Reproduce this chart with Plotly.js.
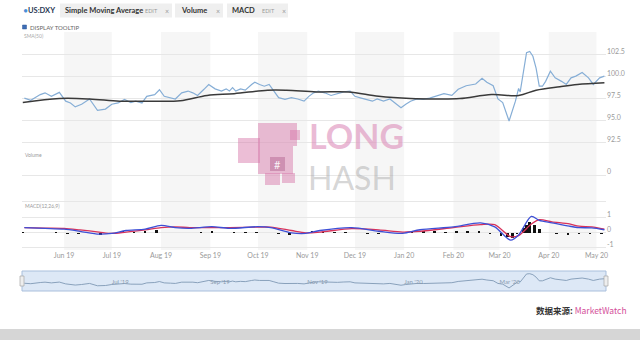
<!DOCTYPE html>
<html><head><meta charset="utf-8">
<script src="https://cdn.plot.ly/plotly-3.0.1.min.js"></script>
<style>html,body{margin:0;padding:0;background:#fff}#chart{width:640px;height:340px}</style>
</head><body><div id="chart"></div>
<script>
// ---- data ----
const priceDates = ['2019-05-07','2019-05-11','2019-05-17','2019-05-20','2019-05-24','2019-05-29','2019-06-02','2019-06-05','2019-06-08','2019-06-12','2019-06-17','2019-06-22','2019-06-27','2019-07-01','2019-07-05','2019-07-09','2019-07-13','2019-07-16','2019-07-20','2019-07-23','2019-07-28','2019-07-31','2019-08-03','2019-08-07','2019-08-10','2019-08-14','2019-08-18','2019-08-21','2019-08-24','2019-08-28','2019-08-31','2019-09-04','2019-09-08','2019-09-11','2019-09-13','2019-09-15','2019-09-17','2019-09-20','2019-09-23','2019-09-27','2019-09-29','2019-10-02','2019-10-05','2019-10-08','2019-10-11','2019-10-14','2019-10-18','2019-10-22','2019-10-26','2019-10-30','2019-11-02','2019-11-05','2019-11-08','2019-11-12','2019-11-16','2019-11-20','2019-11-24','2019-11-28','2019-12-01','2019-12-05','2019-12-09','2019-12-12','2019-12-15','2019-12-19','2019-12-23','2019-12-26','2019-12-30','2020-01-02','2020-01-05','2020-01-09','2020-01-13','2020-01-17','2020-01-21','2020-01-26','2020-01-31','2020-02-04','2020-02-09','2020-02-13','2020-02-15','2020-02-19','2020-02-22','2020-02-26','2020-02-29','2020-03-03','2020-03-07','2020-03-11','2020-03-13','2020-03-14','2020-03-18','2020-03-20','2020-03-22','2020-03-24','2020-03-26','2020-03-28','2020-03-30','2020-04-02','2020-04-05','2020-04-09','2020-04-12','2020-04-15','2020-04-18','2020-04-22','2020-04-26','2020-04-29','2020-05-03','2020-05-06'];
const priceVals = [97.6,97.35,98.0,98.2,97.8,98.25,97.25,97.05,96.6,96.9,97.5,96.2,96.35,96.9,97.05,97.45,97.1,97.25,97.05,97.8,98.0,98.55,97.8,97.64,97.5,98.2,98.4,98.2,97.9,98.6,99.15,98.65,98.4,98.65,98.4,98.8,98.4,98.65,98.5,99.15,99.4,99.15,98.95,99.15,98.4,97.65,97.45,97.65,97.5,97.25,97.8,98.2,98.4,98.2,97.9,98.1,98.3,98.4,97.8,97.6,97.4,97.25,97.5,97.25,97.5,97.1,96.5,96.9,97.25,97.5,97.45,97.6,97.8,98.1,97.9,98.6,99.0,99.15,99.2,99.85,99.4,99.0,97.5,97.1,95.0,97.25,98.7,98.3,102.75,102.9,102.35,101.0,98.95,98.95,99.5,100.65,99.9,99.5,99.15,99.9,100.1,100.5,99.9,99.15,99.9,100.1];

const smaDates = ['2019-05-06','2019-05-29','2019-06-17','2019-07-06','2019-07-25','2019-08-13','2019-08-30','2019-09-16','2019-10-07','2019-10-19','2019-11-07','2019-11-27','2019-12-16','2020-01-05','2020-01-22','2020-02-05','2020-02-25','2020-03-13','2020-03-24','2020-04-08','2020-04-19','2020-05-06'];
const smaVals = [97.1,97.55,97.5,97.25,97.25,97.3,97.9,98.1,98.5,98.5,98.3,98.3,97.8,97.55,97.5,97.55,98.0,97.9,98.5,98.9,99.15,99.35];

const volumeDates = [];   // the Volume panel is empty in the reference
const volumeVals = [];

const macdDates = ['2019-05-07','2019-05-20','2019-06-01','2019-06-11','2019-06-23','2019-07-01','2019-07-10','2019-07-22','2019-08-01','2019-08-10','2019-08-19','2019-09-02','2019-09-13','2019-10-01','2019-10-09','2019-10-22','2019-10-31','2019-11-09','2019-11-29','2019-12-16','2019-12-31','2020-01-11','2020-02-01','2020-02-18','2020-02-27','2020-03-08','2020-03-13','2020-03-21','2020-03-26','2020-04-03','2020-04-14','2020-04-20','2020-04-28','2020-05-06'];
const macdVals = [0.32,0.27,0.22,0.08,-0.11,-0.06,0.13,0.22,0.46,0.32,0.27,0.38,0.27,0.38,0.32,-0.02,-0.06,0.13,0.32,0.08,-0.06,0.18,0.37,0.63,0.37,-0.5,-0.16,1.05,0.79,0.63,0.41,0.32,0.3,0.18];
const signalVals = [0.32,0.29,0.27,0.17,0.03,-0.06,0.03,0.17,0.32,0.37,0.32,0.32,0.32,0.35,0.35,0.13,-0.02,0.03,0.25,0.17,0.03,0.08,0.32,0.51,0.51,-0.27,-0.2,0.55,0.84,0.7,0.56,0.41,0.37,0.22];

const histDates = ['2019-05-06','2019-05-13','2019-05-20','2019-05-27','2019-06-03','2019-06-10','2019-06-17','2019-06-24','2019-07-01','2019-07-08','2019-07-15','2019-07-22','2019-07-29','2019-08-05','2019-08-12','2019-08-19','2019-08-26','2019-09-02','2019-09-09','2019-09-16','2019-09-23','2019-09-30','2019-10-07','2019-10-14','2019-10-21','2019-10-28','2019-11-04','2019-11-11','2019-11-18','2019-11-25','2019-12-02','2019-12-09','2019-12-16','2019-12-23','2019-12-30','2020-01-06','2020-01-13','2020-01-20','2020-01-27','2020-02-03','2020-02-10','2020-02-17','2020-02-24','2020-03-02','2020-03-06','2020-03-09','2020-03-12','2020-03-16','2020-03-18','2020-03-20','2020-03-23','2020-03-26','2020-03-30','2020-04-06','2020-04-13','2020-04-20','2020-04-27','2020-05-04'];
const histVals = [0.05,-0.05,-0.03,0.04,-0.08,-0.1,-0.05,-0.15,0.0,0.1,0.06,0.08,0.15,0.0,-0.06,-0.04,0.05,0.07,-0.04,0.02,0.03,0.06,-0.04,-0.12,-0.15,-0.08,0.08,0.06,0.03,0.06,-0.05,-0.1,-0.08,-0.06,-0.12,0.05,0.08,0.1,0.06,0.1,0.08,0.12,-0.12,-0.2,-0.3,-0.35,-0.1,0.3,0.5,0.7,0.5,0.25,-0.05,-0.1,-0.15,-0.1,-0.12,-0.1];

const priceTicks = [92.5,95,97.5,100,102.5];
const volumeTicks = [0];
const volumeTickText = ['0'];
const macdTicks = [-1,0,1,2];
const macdTickText = ['-1','0','1',''];
const sliderTickDates = ['2019-07-01','2019-09-01','2019-11-01','2020-01-01','2020-03-01','2020-05-01'];
const sliderTickText = ["Jul '19","Sep '19","Nov '19","Jan '20","Mar '20","May '20"];
const bandStarts = ['2019-06-01','2019-08-01','2019-10-01','2019-12-01','2020-02-01','2020-04-01'];
const bandEnds   = ['2019-07-01','2019-09-01','2019-11-01','2020-01-01','2020-03-01','2020-05-01'];

// ---- geometry helpers (pixel -> paper) ----
const L=22, R=34, T=32, B=49, W=640, H=340;
const PW=W-L-R, PH=H-T-B;
const px=x=>(x-L)/PW, py=y=>(H-B-y)/PH;
const xRange=['2019-05-05 12:00','2020-05-07 00:00'];
const FONT='Lato, "Open Sans", sans-serif';
const tickF={family:FONT,size:7,color:'#9a9a9a'};

const traces=[
 {type:'bar',x:volumeDates,y:volumeVals,xaxis:'x',yaxis:'y2',marker:{color:'#9ab'},hoverinfo:'skip'},
 {type:'bar',x:histDates,y:histVals,xaxis:'x',yaxis:'y3',marker:{color:'#111'},width:1.6*86400000,hoverinfo:'skip'},
 {type:'scatter',mode:'lines',x:macdDates,y:signalVals,xaxis:'x',yaxis:'y3',line:{color:'#d8325a',width:1.3,shape:'spline',smoothing:0.8},hoverinfo:'skip'},
 {type:'scatter',mode:'lines',x:macdDates,y:macdVals,xaxis:'x',yaxis:'y3',line:{color:'#3d4fd6',width:1.3,shape:'spline',smoothing:0.8},hoverinfo:'skip'},
 {type:'scatter',mode:'lines',x:priceDates,y:priceVals,xaxis:'x',yaxis:'y',line:{color:'#86aed6',width:1.2},hoverinfo:'skip'},
 {type:'scatter',mode:'lines',x:smaDates,y:smaVals,xaxis:'x',yaxis:'y',line:{color:'#3a3a3a',width:1.5,shape:'spline',smoothing:1},hoverinfo:'skip'},
 {type:'scatter',mode:'lines',x:priceDates,y:priceVals,xaxis:'x2',yaxis:'y4',line:{color:'#7f98b4',width:0.9},hoverinfo:'skip'}
];

const shapes=[];
bandStarts.forEach((s,i)=>shapes.push({type:'rect',xref:'x',yref:'paper',x0:s,x1:bandEnds[i],y0:py(250),y1:py(32),fillcolor:'#f6f6f6',line:{width:0},layer:'below'}));
// range-slider box
shapes.push({type:'rect',xref:'paper',yref:'paper',x0:0,x1:1,y0:py(291),y1:py(271),fillcolor:'#dde8f6',line:{color:'#a9bfdc',width:1},layer:'below'});
[0,1].forEach(e=>shapes.push({type:'rect',xref:'paper',yref:'paper',x0:e-px(24)+px(22),x1:e+px(24)-px(22),y0:py(286),y1:py(276),fillcolor:'#eeeeee',line:{color:'#a8a8a8',width:0.7}}));
// toolbar pills
[[60,172],[175,223],[227,288]].forEach(p=>shapes.push({type:'rect',xref:'paper',yref:'paper',x0:px(p[0]),x1:px(p[1]),y0:py(17.5),y1:py(3.5),fillcolor:'#efefef',line:{width:0}}));
// checkbox
shapes.push({type:'rect',xref:'paper',yref:'paper',x0:px(22.5),x1:px(26.5),y0:py(29),y1:py(25),fillcolor:'#3e6db5',line:{color:'#2f5a9a',width:0.5}});
// bottom grey band
shapes.push({type:'rect',xref:'paper',yref:'paper',x0:px(0),x1:px(640),y0:py(340),y1:py(329),fillcolor:'#d6d6d6',line:{width:0}});
// watermark pixel mascot
const pink='rgba(215,120,170,0.48)';
[[258,297,123,146],[258,293,146,174],[238,260,138,163],[265,280,173,185],[282,295,173,183],[290,300,130,140]].forEach(b=>shapes.push({type:'rect',xref:'paper',yref:'paper',x0:px(b[0]),x1:px(b[1]),y0:py(b[3]),y1:py(b[2]),fillcolor:pink,line:{width:0}}));
shapes.push({type:'rect',xref:'paper',yref:'paper',x0:px(270),x1:px(285),y0:py(171),y1:py(157),fillcolor:'rgba(160,70,120,0.35)',line:{width:0}});

const ann=(x,y,text,o={})=>Object.assign({xref:'paper',yref:'paper',x:px(x),y:py(y),text,showarrow:false,xanchor:'left',yanchor:'middle',font:{family:FONT,size:7,color:'#333'}},o);
const annotations=[
 ann(21,10.7,'•',{font:{family:FONT,size:9,color:'#4a8fd8'}}),
 ann(26,10.7,'<b>US:DXY</b>',{font:{family:FONT,size:7.5,color:'#2b3a55'}}),
 ann(63,10.7,'<b>Simple Moving Average</b>',{font:{family:FONT,size:7.5,color:'#333'}}),
 ann(143,10.7,'EDIT',{font:{family:FONT,size:5.5,color:'#999'}}),
 ann(163,10.5,'×',{font:{family:FONT,size:7,color:'#999'}}),
 ann(179,10.7,'<b>Volume</b>',{font:{family:FONT,size:7.5,color:'#333'}}),
 ann(214,10.5,'×',{font:{family:FONT,size:7,color:'#999'}}),
 ann(230,10.7,'<b>MACD</b>',{font:{family:FONT,size:7.5,color:'#333'}}),
 ann(260,10.7,'EDIT',{font:{family:FONT,size:5.5,color:'#999'}}),
 ann(280,10.5,'×',{font:{family:FONT,size:7,color:'#999'}}),
 ann(28,27,'DISPLAY TOOLTIP',{font:{family:FONT,size:6,color:'#666'}}),
 ann(22,36.5,'SMA(50)',{font:{family:FONT,size:5,color:'#aaa'}}),
 ann(23,155,'Volume',{font:{family:FONT,size:5,color:'#999'}}),
 ann(23,206,'MACD(12,26,9)',{font:{family:FONT,size:5,color:'#999'}}),
 ann(308,156.5,'<b>LONG</b>',{yanchor:'bottom',borderpad:0,font:{family:FONT,size:34,color:'rgba(220,140,185,0.6)'}}),
 ann(307,156.5,'HASH',{yanchor:'top',borderpad:0,font:{family:'Lato, sans-serif',size:32,color:'rgba(150,150,150,0.4)'}}),
 ann(277.5,164,'#',{xanchor:'center',font:{family:FONT,size:11,color:'rgba(255,255,255,0.9)'}}),
 ann(629,310,'<b>数据来源:</b> <span style="color:#d4509a">MarketWatch</span>',{xanchor:'right',font:{family:'"Noto Sans CJK SC", sans-serif',size:8.5,color:'#333'}})
];

const layout={
 width:W,height:H,margin:{l:L,r:R,t:T,b:B},
 paper_bgcolor:'#fff',plot_bgcolor:'rgba(0,0,0,0)',showlegend:false,hovermode:false,bargap:0,
 font:{family:FONT},
 xaxis:{domain:[0,1],anchor:'y3',type:'date',range:xRange,tickformat:'%b %y',dtick:'M1',tick0:'2019-06-01',showgrid:false,zeroline:false,showline:false,ticks:'',tickfont:tickF},
 yaxis:{domain:[py(148),py(32)],anchor:'x',side:'right',range:[91.93,105.11],tickvals:priceTicks,tickformat:'.1f',gridcolor:'#e7e7e7',gridwidth:1,zeroline:false,showline:false,ticks:'',tickfont:tickF,ticklabelshift:-3},
 yaxis2:{domain:[py(186),py(152)],anchor:'x',side:'right',range:[-0.97,2.03],tickmode:'array',tickvals:volumeTicks,ticktext:volumeTickText,showticklabels:true,showgrid:true,gridcolor:'#e7e7e7',zeroline:false,showline:false,ticks:'',tickfont:tickF,ticklabelshift:-3},
 yaxis3:{domain:[py(250),py(200)],anchor:'x',side:'right',range:[-1.144,2.124],tickvals:macdTicks,ticktext:macdTickText,gridcolor:'#e7e7e7',zeroline:false,showline:false,ticks:'',tickfont:tickF,ticklabelshift:-3},
 xaxis2:{domain:[0,1],anchor:'y4',type:'date',range:xRange,tickvals:sliderTickDates,ticktext:sliderTickText,ticklabelposition:'inside right',showgrid:false,zeroline:false,showline:false,ticks:'',tickfont:{family:FONT,size:6,color:'#8a9bb0'}},
 yaxis4:{domain:[0,py(271)],anchor:'x2',range:[93.3,104.4],visible:false},
 shapes,annotations
};
Plotly.newPlot('chart',traces,layout,{displayModeBar:false,staticPlot:true});
</script></body></html>
